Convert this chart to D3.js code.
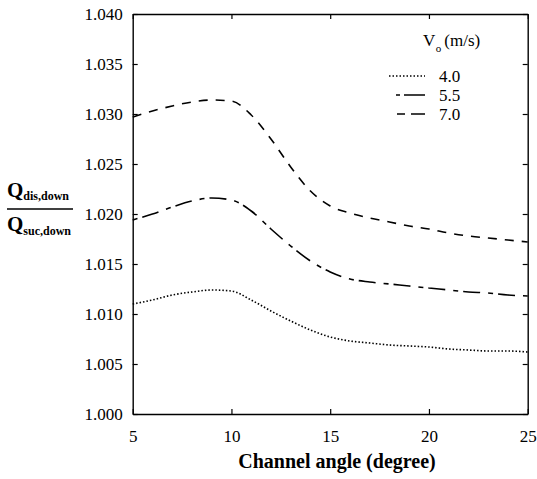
<!DOCTYPE html>
<html>
<head>
<meta charset="utf-8">
<script src="https://cdn.jsdelivr.net/npm/d3@7"></script>
<style>
  body { margin: 0; background: #fff; }
</style>
</head>
<body>
<svg id="chart"></svg>
<script>
// channel angle (degree)
const angles = [5, 6, 7, 8, 9, 10, 11, 12, 13, 14, 15, 16, 17, 18, 19, 20, 21, 22, 23, 24, 25];

// Q_dis,down / Q_suc,down for each inlet velocity
const v40 = [1.0110, 1.0114, 1.0119, 1.0122, 1.0124, 1.0123, 1.0114, 1.0103, 1.0093, 1.0084, 1.0077,
             1.0073, 1.0071, 1.0069, 1.0068, 1.0067, 1.0065, 1.0064, 1.0063, 1.0063, 1.0062];
const v55 = [1.0194, 1.0200, 1.0207, 1.0213, 1.0216, 1.0214, 1.0203, 1.0185, 1.0168, 1.0153, 1.0142,
             1.0135, 1.0132, 1.0130, 1.0128, 1.0126, 1.0124, 1.0122, 1.0121, 1.0119, 1.0118];
const v70 = [1.0297, 1.0303, 1.0308, 1.0312, 1.0314, 1.0313, 1.0299, 1.0275, 1.0247, 1.0223, 1.0208,
             1.0201, 1.0196, 1.0192, 1.0188, 1.0185, 1.0181, 1.0178, 1.0176, 1.0174, 1.0172];

const seriesNames = ["4.0", "5.5", "7.0"];
const xTicks = [5, 10, 15, 20, 25];
const yTicks = [1.000, 1.005, 1.010, 1.015, 1.020, 1.025, 1.030, 1.035, 1.040];

const FONT = "'Liberation Serif'";

const W = 537, H = 479;
const margin = { top: 14, left: 132.7, right: 9.3, bottom: 65 };
const width = W - margin.left - margin.right;
const height = H - margin.top - margin.bottom;

const svg = d3.select("#chart")
    .attr("width", W)
    .attr("height", H);

const g = svg.append("g")
    .attr("transform", `translate(${margin.left},${margin.top})`);

const x = d3.scaleLinear().domain([5, 25]).range([0, width]);
const y = d3.scaleLinear().domain([1.000, 1.040]).range([height, 0]);

// axes, ticks pointing inward on all four sides
const styleAxis = sel => {
    sel.select(".domain").attr("stroke", "#000").attr("stroke-width", 1.4);
    sel.selectAll(".tick line").attr("stroke", "#000").attr("stroke-width", 1.2);
    sel.selectAll("text").attr("fill", "#000").attr("font-size", 17).style("font-family", FONT);
};

g.append("g")
    .attr("transform", `translate(0,${height})`)
    .call(d3.axisBottom(x).tickValues(xTicks).tickSize(-5).tickSizeOuter(0).tickPadding(16))
    .call(styleAxis);

g.append("g")
    .call(d3.axisTop(x).tickValues(xTicks).tickSize(-5).tickSizeOuter(0).tickFormat(""))
    .call(styleAxis);

g.append("g")
    .call(d3.axisLeft(y).tickValues(yTicks).tickSize(-5).tickSizeOuter(0).tickPadding(10)
        .tickFormat(d3.format(".3f")))
    .call(styleAxis);

g.append("g")
    .attr("transform", `translate(${width},0)`)
    .call(d3.axisRight(y).tickValues(yTicks).tickSize(-5).tickSizeOuter(0).tickFormat(""))
    .call(styleAxis);

// lines
const styles = [
    { data: v40, dash: "1.5,2" },
    { data: v55, dash: "5,5,17,8" },
    { data: v70, dash: "9,8" },
];

const line = d3.line()
    .x((d, i) => x(angles[i]))
    .y(d => y(d))
    .curve(d3.curveMonotoneX);

g.append("g")
    .selectAll("path")
    .data(styles)
    .join("path")
    .attr("fill", "none")
    .attr("stroke", "#000")
    .attr("stroke-width", 1.6)
    .attr("stroke-dasharray", d => d.dash)
    .attr("d", d => line(d.data));

// legend
const legend = svg.append("g");
const vt = legend.append("text").attr("x", 423).attr("y", 46).attr("font-size", 17)
    .style("font-family", FONT);
vt.append("tspan").text("V");
vt.append("tspan").attr("font-size", 11).attr("dx", 0.5).attr("dy", 6).text("o");
vt.append("tspan").attr("dx", 3).attr("dy", -6).text("(m/s)");

const legendY = d3.scalePoint().domain(seriesNames).range([76, 114]);
legend.selectAll("line")
    .data(styles)
    .join("line")
    .attr("x1", 389)
    .attr("x2", 425)
    .attr("y1", (d, i) => legendY(seriesNames[i]))
    .attr("y2", (d, i) => legendY(seriesNames[i]))
    .attr("stroke", "#000")
    .attr("stroke-width", 1.6)
    .attr("stroke-dasharray", (d, i) => i === 0 ? "1.5,2" : i === 1 ? "0,7,4,4,20" : "0,8,8,6,12");

legend.selectAll("text.lab")
    .data(seriesNames)
    .join("text")
    .attr("class", "lab")
    .attr("x", 439)
    .attr("y", d => legendY(d) + 6)
    .attr("font-size", 17)
    .style("font-family", FONT)
    .text(d => d);

// x axis title
svg.append("text")
    .attr("x", 337)
    .attr("y", 468)
    .attr("text-anchor", "middle")
    .attr("font-size", 20)
    .attr("font-weight", "bold")
    .style("font-family", FONT)
    .text("Channel angle (degree)");

// y axis title as a fraction
const yl = svg.append("g").attr("font-weight", "bold");
const num = yl.append("text").attr("x", 7).attr("y", 197).attr("font-size", 21)
    .style("font-family", FONT);
num.append("tspan").text("Q");
num.append("tspan").attr("font-size", 12).attr("dy", 3).text("dis,down");
yl.append("line")
    .attr("x1", 7).attr("x2", 73)
    .attr("y1", 209).attr("y2", 209)
    .attr("stroke", "#000").attr("stroke-width", 1.4);
const den = yl.append("text").attr("x", 7).attr("y", 231).attr("font-size", 21)
    .style("font-family", FONT);
den.append("tspan").text("Q");
den.append("tspan").attr("font-size", 12).attr("dy", 4).text("suc,down");
</script>
</body>
</html>
